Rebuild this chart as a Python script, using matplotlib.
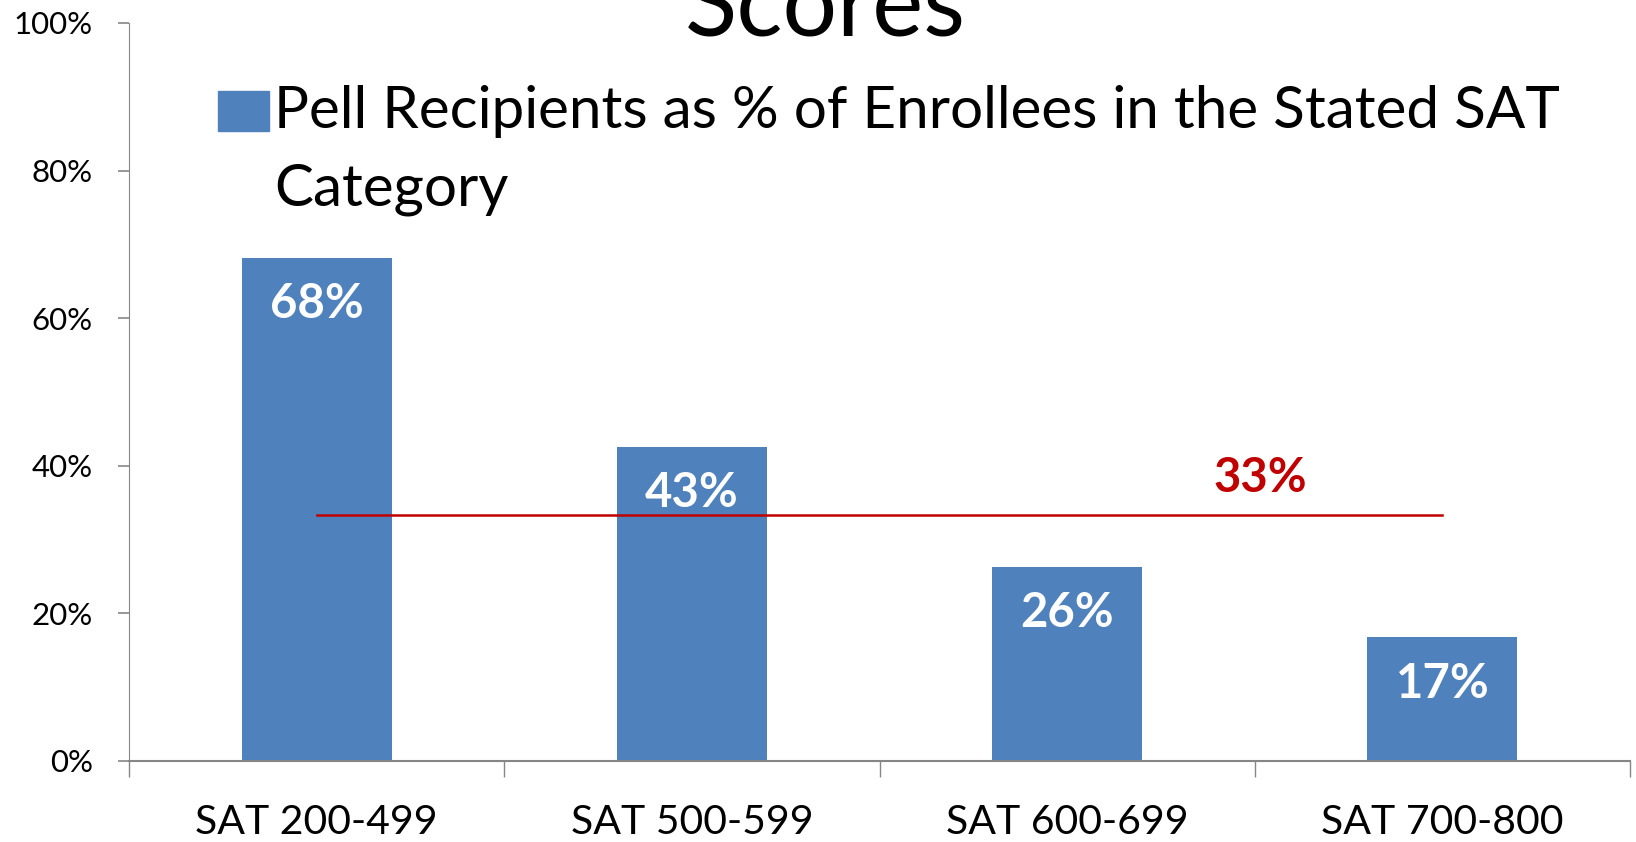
import numpy as np
import matplotlib.pyplot as plt
from matplotlib.patches import Rectangle

plt.rcParams['font.family'] = ['Lato', 'DejaVu Sans']

categories = ['SAT 200-499', 'SAT 500-599', 'SAT 600-699', 'SAT 700-800']
pell_share = [68.2, 42.6, 26.3, 16.8]
bar_labels = ['68%', '43%', '26%', '17%']
average = 33.4
average_label = '33%'
legend_lines = ['Pell Recipients as % of Enrollees in the Stated SAT', 'Category']

blue = '#4F81BD'
red = '#C00000'
grey = '#868686'

fig = plt.figure(figsize=(16.36, 8.42), dpi=100)
ax = fig.add_axes([129 / 1636, 1 - 761 / 842, (1630 - 129) / 1636, (761 - 23) / 842])

x = np.arange(len(categories))
ax.bar(x, pell_share, width=0.4, color=blue, zorder=2)
for xi, v, lab in zip(x, pell_share, bar_labels):
    ax.text(xi, v - 6.3, lab, ha='center', va='center', color='white',
            fontsize=34, fontweight='bold', zorder=4)

ax.plot([x[0], x[-1]], [average, average], color=red, lw=1.8, zorder=3)
ax.text(2.515, 38.3, average_label, ha='center', va='center', color=red,
        fontsize=34, fontweight='bold')

ax.set_xlim(-0.5, 3.5)
ax.set_ylim(0, 100)
ax.set_yticks(np.arange(0, 101, 20))
ax.set_yticklabels([f'{t}%' for t in range(0, 101, 20)], fontsize=22.5)
ax.set_xticks(x)
ax.set_xticklabels(categories, fontsize=29.5)
ax.tick_params(axis='x', which='major', length=0, pad=31)
ax.set_xticks(np.arange(-0.5, 3.6, 1), minor=True)
ax.tick_params(axis='x', which='minor', length=11.5, color=grey, width=1)
ax.tick_params(axis='y', length=8, color=grey, width=1.2, pad=18)
for s in ['top', 'right']:
    ax.spines[s].set_visible(False)
for s in ['left', 'bottom']:
    ax.spines[s].set_color(grey)
ax.spines['bottom'].set_linewidth(1.5)

# title, cut off at the top of the image
fig.text(825 / 1636, 1 - 36 / 842, 'Scores', ha='center', va='baseline', fontsize=69.5)

# legend drawn by hand
fig.patches.append(Rectangle((218 / 1636, 1 - 131 / 842), 51 / 1636, 40 / 842,
                             transform=fig.transFigure, color=blue))
fig.text(274 / 1636, 1 - 128 / 842, legend_lines[0], ha='left', va='baseline', fontsize=42)
fig.text(274 / 1636, 1 - 206 / 842, legend_lines[1], ha='left', va='baseline', fontsize=42)

fig.savefig('out.png', dpi=100)
